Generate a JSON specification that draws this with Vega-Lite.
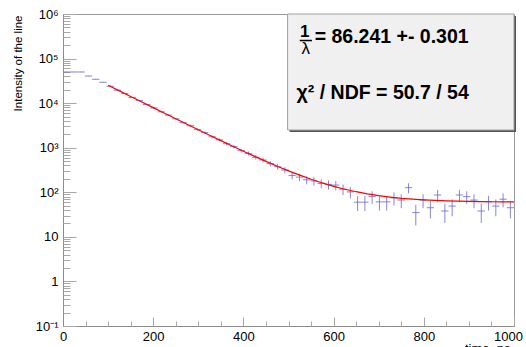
{
  "$schema": "https://vega.github.io/schema/vega-lite/v6.json",
  "width": 451,
  "height": 312,
  "autosize": {"type": "none"},
  "padding": {"left": 63, "top": 14, "right": 12, "bottom": 21},
  "background": "white",
  "config": {
    "view": {"stroke": "#9a9a9a", "strokeWidth": 1},
    "font": "Liberation Sans",
    "axis": {
      "grid": false,
      "labelFont": "Liberation Sans",
      "labelFontSize": 13,
      "labelColor": "#000000",
      "domainColor": "#8c8c8c",
      "tickColor": "#a8a8a8",
      "labelFlush": false,
      "labelOverlap": false,
      "titleFont": "Liberation Sans",
      "titleFontWeight": "normal",
      "titleColor": "#000000"
    }
  },
  "datasets": {
    "h": [
      {"x0":0,"x1":16.13,"c":8.06,"v":50000,"e":632},
      {"x0":16.13,"x1":32.26,"c":24.19,"v":50000,"e":632},
      {"x0":32.26,"x1":48.39,"c":40.32,"v":50000,"e":632},
      {"x0":48.39,"x1":64.52,"c":56.45,"v":40600,"e":570},
      {"x0":64.52,"x1":80.65,"c":72.58,"v":34300,"e":524},
      {"x0":80.65,"x1":96.77,"c":88.71,"v":29400,"e":485},
      {"x0":96.77,"x1":112.9,"c":104.84,"v":23900,"e":437},
      {"x0":112.9,"x1":129.03,"c":120.97,"v":19500,"e":395},
      {"x0":129.03,"x1":145.16,"c":137.1,"v":16500,"e":363},
      {"x0":145.16,"x1":161.29,"c":153.23,"v":13400,"e":327},
      {"x0":161.29,"x1":177.42,"c":169.35,"v":11400,"e":302},
      {"x0":177.42,"x1":193.55,"c":185.48,"v":9300,"e":273},
      {"x0":193.55,"x1":209.68,"c":201.61,"v":7800,"e":250},
      {"x0":209.68,"x1":225.81,"c":217.74,"v":6400,"e":226},
      {"x0":225.81,"x1":241.94,"c":233.87,"v":5400,"e":208},
      {"x0":241.94,"x1":258.06,"c":250,"v":4450,"e":189},
      {"x0":258.06,"x1":274.19,"c":266.13,"v":3650,"e":171},
      {"x0":274.19,"x1":290.32,"c":282.26,"v":3120,"e":158},
      {"x0":290.32,"x1":306.45,"c":298.39,"v":2550,"e":143},
      {"x0":306.45,"x1":322.58,"c":314.52,"v":2180,"e":132},
      {"x0":322.58,"x1":338.71,"c":330.65,"v":1760,"e":119},
      {"x0":338.71,"x1":354.84,"c":346.77,"v":1500,"e":110},
      {"x0":354.84,"x1":370.97,"c":362.9,"v":1230,"e":99},
      {"x0":370.97,"x1":387.1,"c":379.03,"v":1060,"e":92},
      {"x0":387.1,"x1":403.23,"c":395.16,"v":860,"e":83},
      {"x0":403.23,"x1":419.35,"c":411.29,"v":745,"e":77},
      {"x0":419.35,"x1":435.48,"c":427.42,"v":610,"e":70},
      {"x0":435.48,"x1":451.61,"c":443.55,"v":530,"e":65},
      {"x0":451.61,"x1":467.74,"c":459.68,"v":440,"e":59},
      {"x0":467.74,"x1":483.87,"c":475.81,"v":375,"e":55},
      {"x0":483.87,"x1":500,"c":491.94,"v":315,"e":50},
      {"x0":500,"x1":516.13,"c":508.06,"v":239,"e":44},
      {"x0":516.13,"x1":532.26,"c":524.19,"v":219,"e":42},
      {"x0":532.26,"x1":548.39,"c":540.32,"v":190,"e":39},
      {"x0":548.39,"x1":564.52,"c":556.45,"v":180,"e":38},
      {"x0":564.52,"x1":580.65,"c":572.58,"v":158,"e":36},
      {"x0":580.65,"x1":596.77,"c":588.71,"v":150,"e":35},
      {"x0":596.77,"x1":612.9,"c":604.84,"v":145,"e":34},
      {"x0":612.9,"x1":629.03,"c":620.97,"v":118,"e":31},
      {"x0":629.03,"x1":645.16,"c":637.1,"v":102,"e":29},
      {"x0":645.16,"x1":661.29,"c":653.23,"v":60,"e":22},
      {"x0":661.29,"x1":677.42,"c":669.35,"v":60,"e":22},
      {"x0":677.42,"x1":693.55,"c":685.48,"v":80,"e":25},
      {"x0":693.55,"x1":709.68,"c":701.61,"v":61,"e":22},
      {"x0":709.68,"x1":725.81,"c":717.74,"v":61,"e":22},
      {"x0":725.81,"x1":741.94,"c":733.87,"v":75,"e":24.5},
      {"x0":741.94,"x1":758.06,"c":750,"v":67,"e":23},
      {"x0":758.06,"x1":774.19,"c":766.13,"v":127,"e":32},
      {"x0":774.19,"x1":790.32,"c":782.26,"v":35,"e":17},
      {"x0":790.32,"x1":806.45,"c":798.39,"v":67,"e":23},
      {"x0":806.45,"x1":822.58,"c":814.52,"v":45,"e":19},
      {"x0":822.58,"x1":838.71,"c":830.65,"v":87,"e":26},
      {"x0":838.71,"x1":854.84,"c":846.77,"v":38,"e":17.4},
      {"x0":854.84,"x1":870.97,"c":862.9,"v":49,"e":20},
      {"x0":870.97,"x1":887.1,"c":879.03,"v":87,"e":26},
      {"x0":887.1,"x1":903.23,"c":895.16,"v":80,"e":25},
      {"x0":903.23,"x1":919.35,"c":911.29,"v":67,"e":23},
      {"x0":919.35,"x1":935.48,"c":927.42,"v":38,"e":17.4},
      {"x0":935.48,"x1":951.61,"c":943.55,"v":61,"e":22},
      {"x0":951.61,"x1":967.74,"c":959.68,"v":49,"e":20},
      {"x0":967.74,"x1":983.87,"c":975.81,"v":70,"e":24},
      {"x0":983.87,"x1":1000,"c":991.94,"v":45,"e":19}
    ],
    "fit": [
      {"t":100,"f":25150},{"t":125,"f":18834},{"t":150,"f":14109},{"t":175,"f":10573},
      {"t":200,"f":7927},{"t":225,"f":5947},{"t":250,"f":4465},{"t":275,"f":3357},
      {"t":300,"f":2527},{"t":325,"f":1906},{"t":350,"f":1441},{"t":375,"f":1094},
      {"t":400,"f":834},{"t":425,"f":639},{"t":450,"f":493},{"t":475,"f":384},
      {"t":500,"f":303},{"t":525,"f":242},{"t":550,"f":196},{"t":575,"f":162},
      {"t":600,"f":136},{"t":625,"f":117},{"t":650,"f":103},{"t":675,"f":92},
      {"t":700,"f":84},{"t":725,"f":78},{"t":750,"f":73},{"t":775,"f":70},
      {"t":800,"f":67.5},{"t":825,"f":65.6},{"t":850,"f":64.2},{"t":875,"f":63.1},
      {"t":900,"f":62.3},{"t":925,"f":61.8},{"t":950,"f":61.3},{"t":975,"f":61},
      {"t":1000,"f":60.7}
    ]
  },
  "resolve": {"axis": {"x": "independent", "y": "independent"}},
  "layer": [
    {
      "data": {"name": "h"},
      "mark": {"type": "rule", "color": "#7070d4", "strokeWidth": 1, "opacity": 0.85},
      "encoding": {
        "x": {
          "field": "x0", "type": "quantitative",
          "scale": {"domain": [0, 1000], "nice": false, "zero": false},
          "axis": {
            "orient": "bottom",
            "values": [0, 200, 400, 600, 800, 1000],
            "tickSize": -9,
            "labelPadding": 13,
            "labelOffset": {"condition": {"test": "datum.value == 1000", "value": -6}, "value": 0},
            "format": "d",
            "title": "time, ns",
            "titleFontSize": 13,
            "titleAnchor": "end",
            "titleAlign": "right",
            "titleBaseline": "alphabetic",
            "titleX": 447,
            "titleY": 26.5
          }
        },
        "x2": {"field": "x1"},
        "y": {
          "field": "v", "type": "quantitative",
          "scale": {"type": "log", "domain": [0.1, 1000000], "nice": false},
          "axis": {
            "orient": "left",
            "values": [0.1, 1, 10, 100, 1000, 10000, 100000, 1000000],
            "tickSize": -13,
            "labelPadding": 18,
            "labelBaseline": "middle",
            "labelExpr": "datum.value < 0.5 ? '10⁻¹' : datum.value < 5 ? '1' : datum.value < 50 ? '10' : datum.value < 500 ? '10²' : datum.value < 5000 ? '10³' : datum.value < 50000 ? '10⁴' : datum.value < 500000 ? '10⁵' : '10⁶'",
            "title": "Intensity of the line",
            "titleFontSize": 11.5,
            "titleAngle": -90,
            "titleAnchor": "end",
            "titleAlign": "right",
            "titleBaseline": "middle",
            "titleX": -45,
            "titleY": 1
          }
        }
      }
    },
    {
      "data": {"name": "h"},
      "mark": {"type": "errorbar", "color": "#7070d4", "opacity": 0.85, "thickness": 1},
      "encoding": {
        "x": {"field": "c", "type": "quantitative", "scale": {"domain": [0, 1000], "nice": false, "zero": false}, "axis": null},
        "y": {"field": "v", "type": "quantitative", "scale": {"type": "log", "domain": [0.1, 1000000], "nice": false}, "axis": null},
        "yError": {"field": "e"}
      }
    },
    {
      "data": {"name": "fit"},
      "mark": {"type": "line", "color": "#ff0000", "strokeWidth": 1.2},
      "encoding": {
        "x": {
          "field": "t", "type": "quantitative",
          "scale": {"domain": [0, 1000], "nice": false, "zero": false},
          "axis": {"orient": "bottom", "values": [50, 100, 150, 250, 300, 350, 450, 500, 550, 650, 700, 750, 850, 900, 950], "tickSize": -5, "labels": false, "domain": false, "title": null}
        },
        "y": {
          "field": "f", "type": "quantitative",
          "scale": {"type": "log", "domain": [0.1, 1000000], "nice": false},
          "axis": {"orient": "left", "values": [0.2,0.3,0.4,0.5,0.6,0.7,0.8,0.9,2,3,4,5,6,7,8,9,20,30,40,50,60,70,80,90,200,300,400,500,600,700,800,900,2000,3000,4000,5000,6000,7000,8000,9000,20000,30000,40000,50000,60000,70000,80000,90000,200000,300000,400000,500000,600000,700000,800000,900000], "tickSize": -7, "labels": false, "domain": false, "title": null}
        }
      }
    },
    {
      "data": {"values": [{}]},
      "mark": {"type": "rect", "color": "#555555"},
      "encoding": {
        "x": {"datum": 502.5, "type": "quantitative", "axis": null},
        "x2": {"datum": 1004.5},
        "y": {"datum": 2250, "type": "quantitative", "axis": null},
        "y2": {"datum": 900000}
      }
    },
    {
      "data": {"values": [{}]},
      "mark": {"type": "rect", "fill": "#f0f0f0", "stroke": "#a0a0a0", "strokeWidth": 1},
      "encoding": {
        "x": {"datum": 498, "type": "quantitative", "axis": null},
        "x2": {"datum": 1000},
        "y": {"datum": 2495, "type": "quantitative", "axis": null},
        "y2": {"datum": 1000000}
      }
    },
    {
      "data": {"values": [{}]},
      "mark": {"type": "text", "text": "1", "font": "Liberation Sans", "fontSize": 17, "fontWeight": "bold", "align": "center", "baseline": "middle", "color": "#000000"},
      "encoding": {
        "x": {"datum": 536, "type": "quantitative", "axis": null},
        "y": {"datum": 394000, "type": "quantitative", "axis": null}
      }
    },
    {
      "data": {"values": [{}]},
      "mark": {"type": "rule", "color": "#000000", "strokeWidth": 1.5},
      "encoding": {
        "x": {"datum": 525, "type": "quantitative", "axis": null},
        "x2": {"datum": 552},
        "y": {"datum": 254000, "type": "quantitative", "axis": null}
      }
    },
    {
      "data": {"values": [{}]},
      "mark": {"type": "text", "text": "λ", "font": "Liberation Sans", "fontSize": 17, "align": "center", "baseline": "middle", "color": "#000000"},
      "encoding": {
        "x": {"datum": 538, "type": "quantitative", "axis": null},
        "y": {"datum": 168000, "type": "quantitative", "axis": null}
      }
    },
    {
      "data": {"values": [{}]},
      "mark": {"type": "text", "text": "= 86.241 +- 0.301", "font": "Liberation Sans", "fontSize": 19.5, "fontWeight": "bold", "align": "left", "baseline": "alphabetic", "color": "#000000"},
      "encoding": {
        "x": {"datum": 558, "type": "quantitative", "axis": null},
        "y": {"datum": 223000, "type": "quantitative", "axis": null}
      }
    },
    {
      "data": {"values": [{}]},
      "mark": {"type": "text", "text": "χ² / NDF = 50.7 / 54", "font": "Liberation Sans", "fontSize": 19.5, "fontWeight": "bold", "align": "left", "baseline": "alphabetic", "color": "#000000"},
      "encoding": {
        "x": {"datum": 518, "type": "quantitative", "axis": null},
        "y": {"datum": 12400, "type": "quantitative", "axis": null}
      }
    }
  ]
}
